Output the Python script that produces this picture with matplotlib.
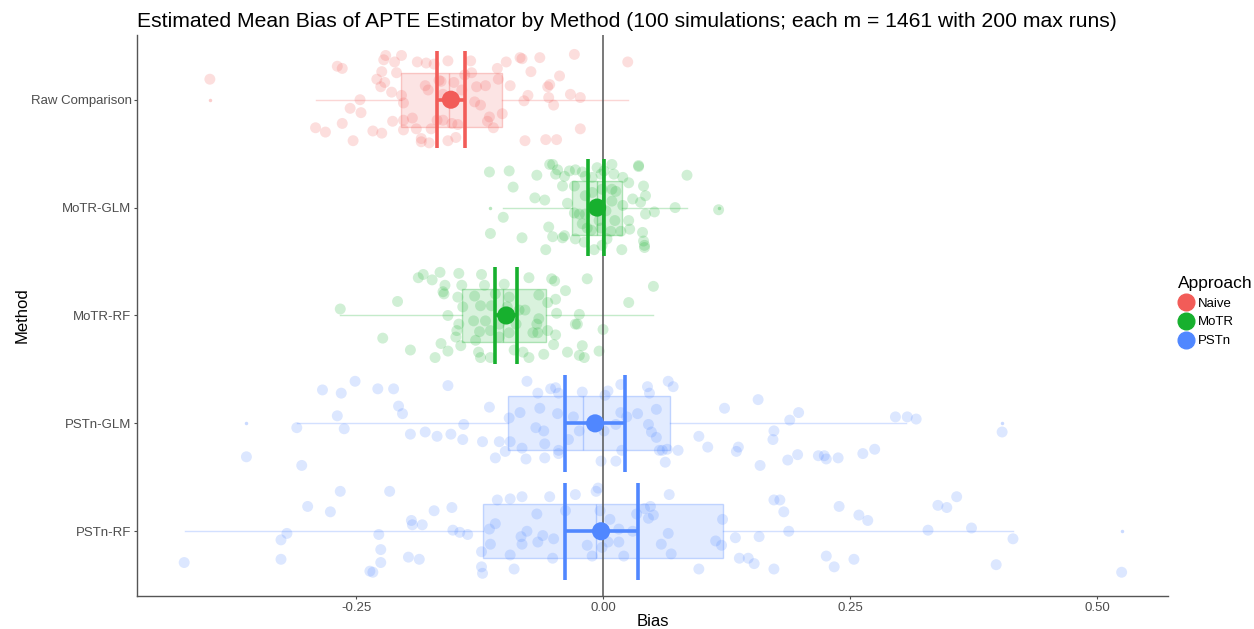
import numpy as np
import matplotlib
matplotlib.use("Agg")
import matplotlib.pyplot as plt
from matplotlib.lines import Line2D

plt.rcParams['font.family'] = ['Liberation Sans', 'DejaVu Sans']

# methods top to bottom
methods = ['Raw Comparison', 'MoTR-GLM', 'MoTR-RF', 'PSTn-GLM', 'PSTn-RF']
approach = ['Naive', 'MoTR', 'MoTR', 'PSTn', 'PSTn']
colors = {'Naive': '#F25C58', 'MoTR': '#17B02E', 'PSTn': '#5087FF'}

# mean bias and confidence interval
mean_bias = [-0.154, -0.006, -0.098, -0.008, -0.002]
ci_lo = [-0.168, -0.015, -0.109, -0.038, -0.039]
ci_hi = [-0.140, 0.001, -0.087, 0.022, 0.035]

# boxplot stats
q1 = [-0.205, -0.031, -0.143, -0.096, -0.122]
med = [-0.156, -0.006, -0.101, -0.020, -0.007]
q3 = [-0.102, 0.019, -0.058, 0.068, 0.121]
whislo = [-0.291, -0.101, -0.266, -0.310, -0.423]
whishi = [0.025, 0.085, 0.051, 0.307, 0.415]
fliers = [[-0.398], [-0.114, 0.117], [], [-0.361, 0.404], [0.525]]

# simulated biases (x) and their vertical jitter (y)
raw_x = [-0.398, -0.269, -0.264, -0.220, -0.222, -0.204, -0.211, -0.188, -0.179, -0.171,
         -0.157, -0.134, -0.107, -0.098, -0.084, -0.082, -0.064, -0.029, 0.025, -0.224,
         -0.209, -0.229, -0.221, -0.225, -0.073, -0.044, -0.054, -0.056, -0.214, -0.246,
         -0.256, -0.245, -0.204, -0.180, -0.177, -0.166, -0.162, -0.151, -0.143, -0.133,
         -0.128, -0.119, -0.106, -0.094, -0.130, -0.124, -0.102, -0.115, -0.117, -0.076,
         -0.080, -0.055, -0.050, -0.033, -0.023, -0.291, -0.281, -0.264, -0.253, -0.233,
         -0.224, -0.213, -0.202, -0.189, -0.184, -0.174, -0.176, -0.184, -0.157, -0.149,
         -0.147, -0.162, -0.153, -0.111, -0.079, -0.058, -0.047, -0.023, -0.202, -0.193,
         -0.202, -0.164, -0.140, -0.168]
raw_j = [-0.19, -0.31, -0.29, -0.41, -0.37, -0.41, -0.35, -0.35, -0.34, -0.33,
         -0.36, -0.36, -0.29, -0.35, -0.39, -0.38, -0.39, -0.42, -0.35, -0.26,
         -0.25, -0.19, -0.16, -0.12, -0.26, -0.22, -0.14, -0.12, -0.07, 0.00,
         0.08, 0.12, -0.04, -0.13, -0.09, -0.18, -0.05, -0.16, -0.09, -0.25,
         -0.12, -0.13, -0.19, -0.13, 0.02, 0.05, 0.13, 0.16, 0.20, -0.04,
         0.01, -0.02, 0.05, -0.05, -0.02, 0.26, 0.30, 0.22, 0.38, 0.29,
         0.31, 0.20, 0.28, 0.27, 0.36, 0.27, 0.40, 0.39, 0.38, 0.35,
         0.23, 0.19, 0.22, 0.26, 0.38, 0.37, 0.37, 0.27, 0.19, 0.17,
         0.03, -0.17, -0.23, 0.19]

motr_glm_x = [-0.115, -0.095, -0.091, -0.067, -0.054, -0.051, -0.046, -0.048, -0.039, -0.034,
              -0.028, -0.021, -0.018, -0.041, -0.029, -0.011, -0.002, 0.009, 0.011, 0.020,
              0.026, 0.036, 0.036, 0.085, 0.041, 0.043, 0.030, 0.038, -0.069, -0.059,
              -0.036, -0.018, -0.001, 0.009, 0.009, 0.020, 0.052, 0.043, 0.073, 0.117,
              -0.101, -0.114, -0.082, -0.058, -0.055, -0.051, -0.041, -0.039, -0.028, -0.019,
              -0.016, -0.018, -0.024, -0.009, -0.001, 0.004, 0.012, 0.018, 0.019, 0.026,
              0.027, 0.040, 0.041, 0.042, 0.042, -0.002, 0.008, -0.012, -0.029, -0.011,
              -0.004, 0.003, -0.021, 0.013, -0.006, 0.001]
motr_glm_j = [-0.33, -0.34, -0.19, -0.30, -0.40, -0.40, -0.35, -0.31, -0.29, -0.34,
              -0.35, -0.33, -0.29, -0.20, -0.20, -0.28, -0.31, -0.40, -0.31, -0.28,
              -0.23, -0.39, -0.38, -0.30, -0.20, -0.11, -0.08, -0.05, -0.09, -0.07,
              -0.04, -0.11, -0.17, -0.17, -0.06, -0.02, 0.04, 0.06, 0.00, 0.02,
              0.09, 0.24, 0.28, 0.39, 0.18, 0.27, 0.28, 0.26, 0.29, 0.32,
              0.19, 0.06, 0.06, 0.39, 0.35, 0.29, 0.12, 0.22, 0.39, 0.12,
              0.20, 0.23, 0.31, 0.35, 0.37, 0.19, 0.22, 0.21, 0.05, -0.14,
              0.12, 0.03, 0.15, -0.15, -0.37, -0.34]

motr_rf_x = [-0.266, -0.208, -0.223, -0.195, -0.187, -0.182, -0.173, -0.165, -0.160, -0.162,
             -0.161, -0.157, -0.164, -0.157, -0.170, -0.146, -0.143, -0.147, -0.142, -0.146,
             -0.148, -0.149, -0.144, -0.130, -0.124, -0.131, -0.125, -0.123, -0.120, -0.129,
             -0.126, -0.124, -0.114, -0.119, -0.113, -0.109, -0.100, -0.095, -0.095, -0.090,
             -0.081, -0.075, -0.075, -0.085, -0.079, -0.065, -0.065, -0.067, -0.071, -0.066,
             -0.056, -0.056, -0.052, -0.049, -0.048, -0.047, -0.038, -0.048, -0.050, -0.060,
             -0.036, -0.028, -0.026, -0.024, -0.016, -0.021, -0.024, -0.019, -0.004, 0.000,
             0.026, 0.051, -0.105, -0.105, -0.088, -0.097, -0.114]
motr_rf_j = [-0.06, -0.13, 0.21, 0.32, -0.35, -0.38, -0.33, -0.40, -0.28, -0.22,
             -0.20, 0.00, 0.26, 0.33, 0.39, -0.39, -0.28, -0.17, -0.08, 0.08,
             0.14, 0.20, 0.28, -0.18, -0.09, 0.05, 0.15, -0.38, -0.28, 0.23,
             0.34, 0.39, 0.39, 0.05, -0.09, -0.20, -0.29, -0.17, 0.16, 0.32,
             0.34, 0.39, -0.35, -0.05, -0.05, -0.19, 0.03, 0.08, 0.16, 0.16,
             0.14, -0.12, -0.34, -0.32, -0.15, -0.02, -0.23, 0.18, 0.27, 0.36,
             0.34, 0.08, 0.08, -0.01, -0.34, 0.28, 0.37, 0.39, 0.33, 0.13,
             -0.12, -0.27, 0.08, 0.20, 0.08, -0.08, 0.14]

pstn_glm_x = [-0.284, -0.265, -0.251, -0.228, -0.212, -0.157, -0.207, -0.203, -0.269, -0.262,
              -0.310, -0.361, -0.305, -0.195, -0.180, -0.168, -0.154, -0.142, -0.141,
              -0.115, -0.122, -0.109, -0.105, -0.099, -0.094, -0.095, -0.084, -0.082, -0.078,
              -0.077, -0.068, -0.066, -0.064, -0.060, -0.059, -0.059, -0.053, -0.048, -0.045,
              -0.046, -0.045, -0.045, -0.035, -0.030, -0.024, -0.021, -0.002, 0.002, 0.005,
              0.001, 0.013, 0.018, 0.018, 0.019, 0.024, 0.035, 0.045, 0.047, 0.046,
              0.049, 0.054, 0.054, 0.057, 0.060, 0.063, 0.065, 0.066, 0.071, 0.076,
              0.097, 0.106, 0.013, 0.123, 0.157, 0.135, 0.137, 0.159, 0.173, 0.172,
              0.189, 0.198, 0.187, 0.197, 0.218, 0.224, 0.226, 0.238, 0.263, 0.275,
              0.296, 0.308, 0.317, 0.404]
pstn_glm_j = [-0.31, -0.28, -0.39, -0.32, -0.32, -0.35, -0.16, -0.09, -0.07, 0.05,
              0.04, 0.31, 0.39, 0.10, 0.08, 0.12, 0.10, 0.15, 0.01,
              -0.15, 0.17, 0.32, 0.17, 0.26, 0.17, -0.05, -0.10, 0.23, 0.33,
              -0.39, 0.04, -0.28, -0.14, 0.07, 0.19, 0.32, -0.32, -0.33, -0.28,
              -0.09, 0.25, 0.28, 0.15, -0.06, 0.07, -0.29, 0.35, -0.26, -0.30,
              0.07, 0.35, -0.10, -0.36, 0.25, -0.06, -0.09, -0.34, -0.28, 0.01,
              0.08, 0.13, -0.13, 0.25, 0.25, 0.36, 0.24, -0.39, -0.34, 0.25,
              0.12, 0.22, 0.01, -0.14, -0.22, 0.26, 0.22, 0.39, 0.07, 0.15,
              -0.03, -0.10, 0.34, 0.29, 0.30, 0.30, 0.33, 0.32, 0.28, 0.24,
              -0.06, -0.06, -0.04, 0.08]

pstn_rf_x = [-0.424, -0.326, -0.326, -0.320, -0.299, -0.276, -0.266, -0.216, -0.227, -0.225,
             -0.225, -0.236, -0.233, -0.194, -0.193, -0.183, -0.197, -0.186, -0.171, -0.153,
             -0.152, -0.145, -0.137, -0.123, -0.123, -0.122, -0.114, -0.115, -0.109, -0.107,
             -0.094, -0.094, -0.090, -0.082, -0.083, -0.082, -0.077, -0.067, -0.066, -0.061,
             -0.054, -0.051, -0.050, -0.038, -0.028, -0.016, -0.011, -0.007, -0.005, -0.003,
             -0.001, 0.007, 0.005, 0.016, 0.016, 0.021, 0.030, 0.034, 0.042, 0.048,
             0.051, 0.046, 0.067, 0.066, 0.059, 0.069, 0.097, 0.114, 0.121, 0.120,
             0.134, 0.138, 0.147, 0.153, 0.158, 0.173, 0.173, 0.179, 0.183, 0.188,
             0.226, 0.234, 0.239, 0.254, 0.259, 0.268, 0.329, 0.339, 0.348, 0.358,
             0.373, 0.398, 0.415, 0.525]
pstn_rf_j = [0.29, 0.08, 0.26, 0.02, -0.23, -0.18, -0.37, -0.37, 0.03, 0.17,
             0.29, 0.37, 0.38, -0.10, -0.06, -0.06, 0.24, 0.26, -0.19, -0.22,
             -0.01, 0.01, 0.03, 0.19, 0.33, 0.39, 0.12, -0.02, -0.07, -0.29,
             -0.30, 0.22, 0.35, -0.32, 0.05, 0.12, 0.00, -0.16, 0.10, 0.04,
             -0.32, 0.25, 0.07, -0.19, -0.34, 0.13, 0.23, -0.37, -0.40, -0.19,
             0.15, -0.11, 0.10, -0.02, 0.10, 0.23, 0.00, -0.16, -0.21, -0.23,
             -0.15, -0.12, -0.34, 0.02, 0.12, 0.21, 0.35, 0.09, -0.11, 0.13,
             0.06, 0.25, 0.25, 0.30, 0.05, 0.35, -0.29, -0.29, -0.18, 0.00,
             0.23, 0.33, -0.23, 0.26, -0.15, -0.10, -0.01, -0.24, -0.22, -0.32,
             -0.03, 0.31, 0.07, 0.38]

points_x = [raw_x, motr_glm_x, motr_rf_x, pstn_glm_x, pstn_rf_x]
points_j = [raw_j, motr_glm_j, motr_rf_j, pstn_glm_j, pstn_rf_j]

fig = plt.figure(figsize=(12.54, 6.29), dpi=100)
ax = fig.add_axes([0.1093, 0.0525, 0.8221, 0.8919])

for i, m in enumerate(methods):
    c = colors[approach[i]]
    stats = [dict(q1=q1[i], med=med[i], q3=q3[i], whislo=whislo[i], whishi=whishi[i],
                  fliers=fliers[i], label=m)]
    ax.bxp(stats, positions=[i], widths=0.5, orientation='horizontal', patch_artist=True,
           showcaps=False,
           boxprops=dict(facecolor=matplotlib.colors.to_rgba(c, 0.16),
                         edgecolor=matplotlib.colors.to_rgba(c, 0.3), linewidth=1),
           medianprops=dict(color=c, alpha=0.35, linewidth=1),
           whiskerprops=dict(color=c, alpha=0.25, linewidth=1),
           flierprops=dict(marker='o', markersize=2.5, markerfacecolor=c,
                           markeredgecolor='none', alpha=0.3))
    ax.scatter(points_x[i], i + np.array(points_j[i]), s=62, color=c, alpha=0.2,
               edgecolors='none', zorder=3)

ax.axvline(0, color='#555555', linewidth=1.1, zorder=4)

for i, m in enumerate(methods):
    c = colors[approach[i]]
    ax.hlines(i, ci_lo[i], ci_hi[i], color=c, linewidth=2.6, zorder=5)
    ax.vlines([ci_lo[i], ci_hi[i]], i - 0.45, i + 0.45, color=c, linewidth=2.6, zorder=5)
    ax.scatter([mean_bias[i]], [i], s=170, color=c, edgecolors='none', zorder=6)

ax.set_xlim(-0.4717, 0.5719)
ax.set_ylim(4.6, -0.6)
ax.set_yticks(range(len(methods)))
ax.set_yticklabels(methods)
ax.set_xticks([-0.25, 0, 0.25, 0.5])
ax.set_xticklabels(['-0.25', '0.00', '0.25', '0.50'])
ax.tick_params(colors='#4D4D4D', labelsize=9.5, length=2.5, width=0.8, pad=1.5)
for s in ['top', 'right']:
    ax.spines[s].set_visible(False)
for s in ['left', 'bottom']:
    ax.spines[s].set_color('#555555')
    ax.spines[s].set_linewidth(1.0)

ax.set_xlabel('Bias', fontsize=12, labelpad=0)
ax.set_ylabel('Method', fontsize=12, labelpad=8)
ax.yaxis.set_label_coords(-0.104, 0.5)
ax.set_title('Estimated Mean Bias of APTE Estimator by Method (100 simulations; each m = 1461 with 200 max runs)',
             fontsize=15.2, loc='left', pad=6)

handles = [Line2D([], [], marker='o', linestyle='none', markersize=12,
                  color=colors[a], label=a) for a in ['Naive', 'MoTR', 'PSTn']]
leg = fig.legend(handles=handles, title='Approach', loc='upper left',
                 bbox_to_anchor=(0.935, 0.57), frameon=False, fontsize=9.5,
                 title_fontsize=12.5, handletextpad=0.3, labelspacing=0.5,
                 borderaxespad=0, handlelength=1.2)
leg._legend_box.align = 'left'

fig.savefig('out.png', dpi=100)
